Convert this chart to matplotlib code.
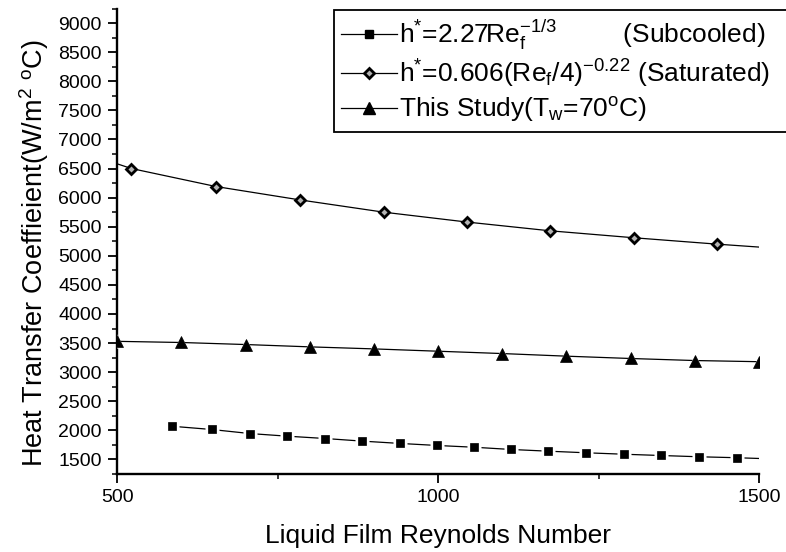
import matplotlib
matplotlib.use("Agg")
import matplotlib.pyplot as plt
from matplotlib.lines import Line2D
from matplotlib.ticker import MultipleLocator

plt.rcParams['font.family'] = ['Liberation Sans', 'DejaVu Sans']
plt.rcParams['mathtext.default'] = 'regular'

# Subcooled correlation, h* = 2.27 Re_f^(-1/3)
re_sub = [586, 647, 707, 765, 824, 882, 941, 999, 1056, 1113, 1172, 1230, 1289, 1347, 1407, 1465]
h_sub = [2070, 2015, 1945, 1900, 1860, 1815, 1775, 1740, 1710, 1672, 1642, 1615, 1590, 1568, 1546, 1530]
re_sub_end = 1500
h_sub_end = 1517

# Saturated correlation, h* = 0.606 (Re_f/4)^(-0.22)
re_sat = [522, 654, 785, 915, 1045, 1174, 1305, 1435]
h_sat = [6500, 6190, 5960, 5750, 5580, 5430, 5310, 5200]
re_sat_ends = [500, 1500]
h_sat_ends = [6580, 5150]

# Present measurements, wall temperature 70 C
re_study = [500, 600, 700, 800, 900, 1000, 1100, 1200, 1300, 1400, 1500]
h_study = [3530, 3510, 3475, 3435, 3400, 3360, 3320, 3275, 3235, 3200, 3180]

x_ticks = [500, 1000, 1500]
y_ticks = list(range(1500, 9001, 500))

labels = [r'h$^{*}$=2.27Re$_{f}^{-1/3}$         (Subcooled)',
          r'h$^{*}$=0.606(Re$_{f}$/4)$^{-0.22}$ (Saturated)',
          r'This Study(T$_{w}$=70$^{o}$C)']

fig = plt.figure(figsize=(7.86, 5.52), dpi=100)
ax = fig.add_axes([0.1492, 0.1413, 0.8164, 0.8433])

lw = 0.9
# subcooled: line through markers and on to the end of the range
ax.plot(re_sub + [re_sub_end], h_sub + [h_sub_end], color='black', lw=lw, zorder=2)
ax.plot(re_sub, h_sub, ls='none', marker='s', ms=10, mfc='white', mec='none', zorder=3)
ax.plot(re_sub, h_sub, ls='none', marker='s', ms=6.2, mfc='black', mec='black', mew=0.5, zorder=4)

# saturated
ax.plot([re_sat_ends[0]] + re_sat + [re_sat_ends[1]],
        [h_sat_ends[0]] + h_sat + [h_sat_ends[1]], color='black', lw=lw, zorder=2)
ax.plot(re_sat, h_sat, ls='none', marker='D', ms=5.2, mfc='0.7', mec='black', mew=2.0, zorder=4)

# this study
ax.plot(re_study, h_study, color='black', lw=lw, zorder=2)
ax.plot(re_study, h_study, ls='none', marker='^', ms=10.5, mfc='white', mec='none', zorder=3)
ax.plot(re_study, h_study, ls='none', marker='^', ms=8, mfc='black', mec='black', mew=0.5, zorder=4)

ax.set_xlim(500, 1500)
ax.set_ylim(1250, 9250)
ax.set_xticks(x_ticks)
ax.set_yticks(y_ticks)
ax.xaxis.set_minor_locator(MultipleLocator(250))
ax.yaxis.set_minor_locator(MultipleLocator(250))

for side in ('top', 'right'):
    ax.spines[side].set_visible(False)
for side in ('left', 'bottom'):
    ax.spines[side].set_linewidth(1.7)

ax.tick_params(which='major', direction='out', length=6.5, width=1.3, labelsize=14, pad=4.5)
ax.tick_params(which='minor', direction='out', length=3.5, width=1.1)

ax.set_xlabel('Liquid Film Reynolds Number', fontsize=19, labelpad=13)
ax.set_ylabel(r'Heat Transfer Coeffieient(W/m$^{2}$ $^{o}$C)', fontsize=19.5)
ax.yaxis.set_label_coords(-0.104, 0.475)

handles = [
    Line2D([], [], color='black', lw=lw, marker='s', ms=6.2, mfc='black', mec='black'),
    Line2D([], [], color='black', lw=lw, marker='D', ms=5.2, mfc='0.7', mec='black', mew=2.0),
    Line2D([], [], color='black', lw=lw, marker='^', ms=8, mfc='black', mec='black'),
]
leg = ax.legend(handles, labels, loc='upper left', bbox_to_anchor=(0.337, 0.0, 0.72, 0.996),
                mode='expand', fontsize=19, frameon=True, fancybox=False, shadow=False,
                handlelength=2.1, handletextpad=0.1, labelspacing=0.2,
                borderpad=0.3, borderaxespad=0.0, numpoints=1)
frame = leg.get_frame()
frame.set_edgecolor('black')
frame.set_linewidth(1.3)
frame.set_alpha(None)
frame.set_facecolor('white')

fig.savefig('out.png', dpi=100)
